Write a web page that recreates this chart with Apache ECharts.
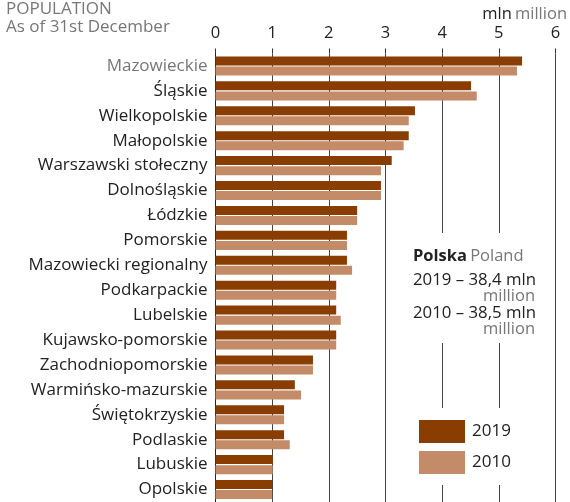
<!DOCTYPE html>
<html>
<head>
<meta charset="utf-8">
<script src="https://cdn.jsdelivr.net/npm/echarts@6/dist/echarts.min.js"></script>
<style>
  html, body { margin: 0; padding: 0; background: #fff; }
  #chart { width: 570px; height: 502px; }
</style>
</head>
<body>
<div id="chart"></div>
<script>
var regions = ['Mazowieckie', 'Śląskie', 'Wielkopolskie', 'Małopolskie', 'Warszawski stołeczny',
    'Dolnośląskie', 'Łódzkie', 'Pomorskie', 'Mazowiecki regionalny', 'Podkarpackie', 'Lubelskie',
    'Kujawsko-pomorskie', 'Zachodniopomorskie', 'Warmińsko-mazurskie', 'Świętokrzyskie',
    'Podlaskie', 'Lubuskie', 'Opolskie'];
var pop2019 = [5.41, 4.51, 3.52, 3.41, 3.11, 2.92, 2.50, 2.32, 2.32, 2.13, 2.13, 2.13, 1.72, 1.40, 1.21, 1.21, 1.01, 1.00];
var pop2010 = [5.32, 4.61, 3.41, 3.32, 2.92, 2.92, 2.50, 2.32, 2.41, 2.13, 2.21, 2.13, 1.72, 1.51, 1.21, 1.31, 1.01, 1.00];
var xTicks = [0, 1, 2, 3, 4, 5, 6];

var dark = '#8a3d00';
var light = '#c38b67';
var font = 'Open Sans';
var fs = 16.5;

var chart = echarts.init(document.getElementById('chart'));

var option = {
    backgroundColor: '#ffffff',
    animation: false,
    textStyle: { fontFamily: font },
    grid: {
        left: 215.5,
        right: 14.5,
        top: 53.5,
        bottom: 0
    },
    legend: {
        orient: 'vertical',
        left: 409,
        top: 408,
        padding: [12, 30, 11, 10],
        itemGap: 8,
        itemWidth: 46,
        itemHeight: 23,
        backgroundColor: '#ffffff',
        icon: 'rect',
        textStyle: { fontSize: 17, color: '#222', fontFamily: font, padding: [0, 0, 0, 2] },
        data: ['2019', '2010'],
        z: 10
    },
    xAxis: {
        type: 'value',
        position: 'top',
        min: 0,
        max: 6,
        interval: 1,
        axisLine: { show: false },
        axisTick: { show: true, length: 5, lineStyle: { color: '#333' } },
        axisLabel: {
            margin: 12,
            fontSize: fs,
            color: '#222',
            formatter: function (v) { return xTicks.indexOf(v) >= 0 ? String(v) : ''; }
        },
        splitLine: { show: true, lineStyle: { color: '#444', width: 1 } }
    },
    yAxis: {
        type: 'category',
        inverse: true,
        data: regions.map(function (r, i) {
            return i === 0 ? { value: r, textStyle: { color: '#777' } } : r;
        }),
        axisLine: { show: true, lineStyle: { color: '#222', width: 1 } },
        axisTick: { show: false },
        axisLabel: { fontSize: 17, color: '#222', margin: 8 }
    },
    series: [{
        name: '2019',
        type: 'bar',
        data: pop2019,
        barWidth: 9,
        barGap: '12%',
        itemStyle: { color: dark }
    }, {
        name: '2010',
        type: 'bar',
        data: pop2010,
        barWidth: 9,
        barGap: '12%',
        itemStyle: { color: light }
    }],
    graphic: [
        { type: 'text', left: 6, top: 1, style: { text: 'POPULATION', fontSize: 17, fill: '#777', fontFamily: font } },
        { type: 'text', left: 6, top: 19, style: { text: 'As of 31st December', fontSize: 17, fill: '#777', fontFamily: font } },
        {
            type: 'text', right: 3, top: 6,
            style: {
                text: '{a|mln} {b|million}', fontFamily: font,
                rich: { a: { fontSize: fs, fill: '#222', fontFamily: font }, b: { fontSize: fs, fill: '#777', fontFamily: font } }
            }
        },
        // white box behind the Poland note
        { type: 'rect', shape: { x: 405, y: 233, width: 142, height: 110 }, style: { fill: '#fff' }, z: 50 },
        {
            type: 'text', left: 413, top: 248, z: 60,
            style: {
                text: '{a|Polska} {b|Poland}', fontFamily: font,
                rich: { a: { fontSize: fs, fill: '#222', fontWeight: 'bold', fontFamily: font }, b: { fontSize: fs, fill: '#777', fontFamily: font } }
            }
        },
        { type: 'text', left: 413, top: 272, z: 60, style: { text: '2019 – 38,4 mln', fontSize: 16.8, fill: '#222', fontFamily: font } },
        { type: 'text', right: 35, top: 288, z: 60, style: { text: 'million', fontSize: fs, fill: '#777', fontFamily: font, align: 'right' } },
        { type: 'text', left: 413, top: 305, z: 60, style: { text: '2010 – 38,5 mln', fontSize: 16.8, fill: '#222', fontFamily: font } },
        { type: 'text', right: 35, top: 321, z: 60, style: { text: 'million', fontSize: fs, fill: '#777', fontFamily: font, align: 'right' } }
    ]
};

chart.setOption(option);
</script>
</body>
</html>
